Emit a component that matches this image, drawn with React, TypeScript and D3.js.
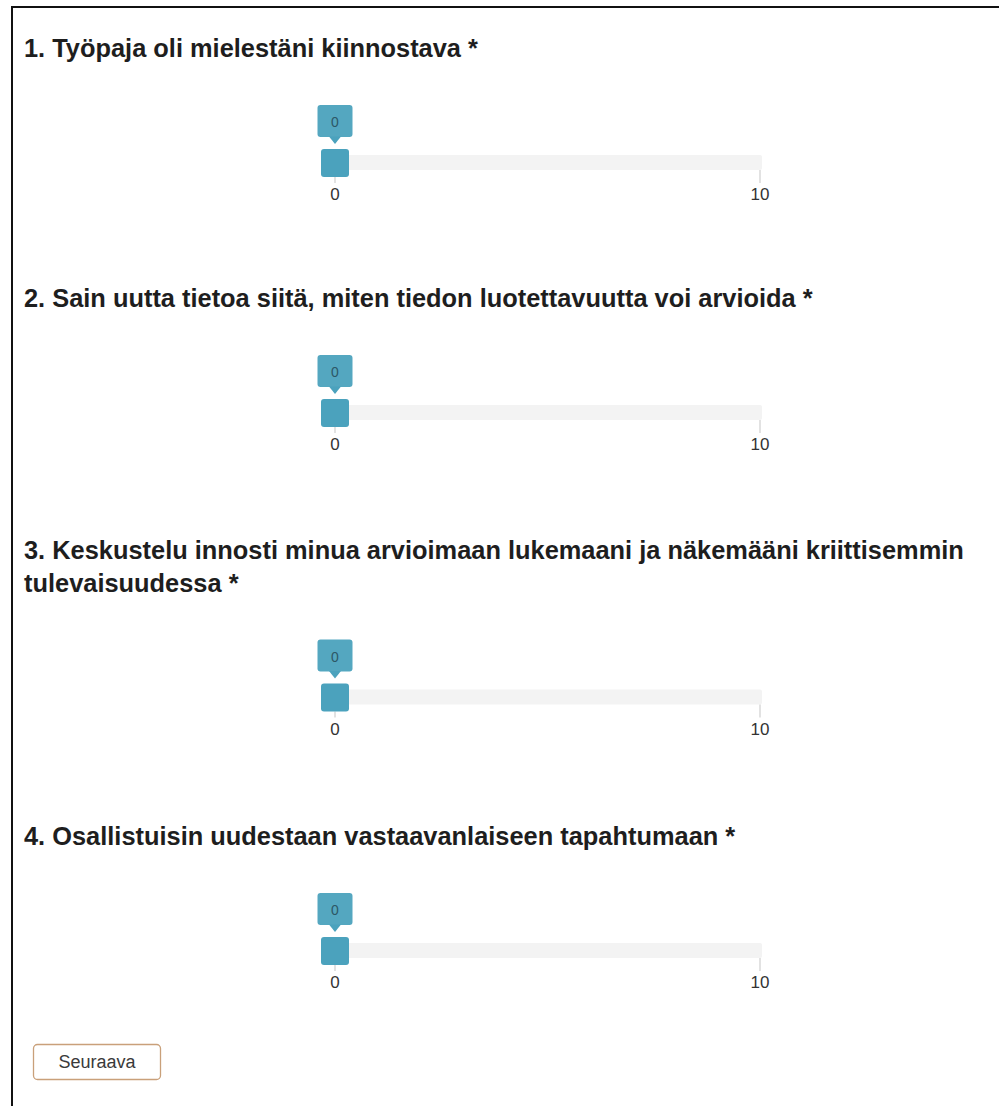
import React from "react";
import * as d3 from "d3";

const questionLines: string[][] = [
  ["1. Työpaja oli mielestäni kiinnostava *"],
  ["2. Sain uutta tietoa siitä, miten tiedon luotettavuutta voi arvioida *"],
  ["3. Keskustelu innosti minua arvioimaan lukemaani ja näkemääni kriittisemmin", "tulevaisuudessa *"],
  ["4. Osallistuisin uudestaan vastaavanlaiseen tapahtumaan *"],
];
const questionBaselines = [57, 307, 559, 845];
const values = [0, 0, 0, 0];
const scaleDomain = [0, 10];
const tickLabels = ["0", "10"];
const buttonLabel = "Seuraava";

const W = 999;
const H = 1106;
const FONT = "Arial, 'Liberation Sans', sans-serif";
const TEAL = "#4ba2bd";
const LINE_H = 32.5;

export default function App() {
  const x = d3.scaleLinear().domain(scaleDomain).range([335, 760]);
  return (
    <div style={{ position: "absolute", left: 0, top: 0 }}>
      <svg width={W} height={H} style={{ display: "block", background: "#fff" }}>
        <rect x={0} y={0} width={W} height={H} fill="#fff" />
        <line x1={12} y1={7} x2={W} y2={7} stroke="#111" strokeWidth={2} />
        <line x1={12} y1={6} x2={12} y2={H} stroke="#111" strokeWidth={2} />
        {questionLines.map((lines, qi) => {
          const base = questionBaselines[qi];
          const lastBase = base + (lines.length - 1) * LINE_H;
          const cy = 163 + (questionBaselines[qi] - questionBaselines[0]) + (lines.length - 1) * LINE_H;
          const v = values[qi];
          const hx = x(v);
          const [d0, d1] = scaleDomain;
          void lastBase;
          return (
            <g key={qi}>
              {lines.map((t, li) => (
                <text key={li} x={24} y={base + li * LINE_H} fontFamily={FONT} fontWeight="bold" fontSize={25.4} fill="#1e1e1e">
                  {t}
                </text>
              ))}
              <rect x={x(d0)} y={cy - 8} width={x(d1) - x(d0) + 2} height={15} rx={2} fill="#f3f3f3" />
              {[d0, d1].map((d, ti) => (
                <g key={ti}>
                  <line x1={x(d)} x2={x(d)} y1={d === v ? cy + 14 : cy + 7} y2={cy + 20} stroke="#cfcfcf" strokeWidth={1.2} />
                  <text x={x(d)} y={cy + 37} textAnchor="middle" fontFamily={FONT} fontSize={17} fill="#333">
                    {tickLabels[ti]}
                  </text>
                </g>
              ))}
              <rect x={hx - 14} y={cy - 14} width={28} height={28} rx={3} fill={TEAL} />
              <rect x={hx - 17.5} y={cy - 58} width={35} height={32} rx={3} fill={TEAL} opacity={0.95} />
              <path d={`M${hx - 6},${cy - 26.5} L${hx},${cy - 19} L${hx + 6},${cy - 26.5} Z`} fill={TEAL} />
              <text x={hx} y={cy - 36} textAnchor="middle" fontFamily={FONT} fontSize={14} fill="#2d5866">
                {String(v)}
              </text>
            </g>
          );
        })}
        <rect x={33.5} y={1044.5} width={127} height={35} rx={4} fill="#fff" stroke="#c9a07a" strokeWidth={1.3} />
        <text x={97} y={1068} textAnchor="middle" fontFamily={FONT} fontSize={18} fill="#3a3a3a">
          {buttonLabel}
        </text>
      </svg>
    </div>
  );
}
